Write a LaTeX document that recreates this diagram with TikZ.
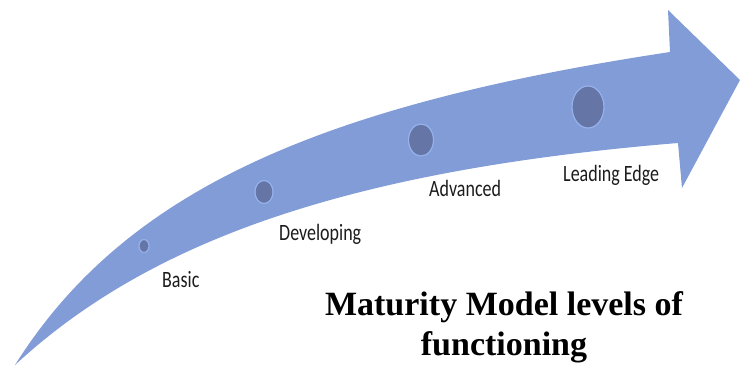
\documentclass[tikz,border=0pt]{standalone}
\usepackage{fontspec}
\usepackage{graphicx}
\setmainfont{Carlito}
\newfontfamily\titlefont{Liberation Serif}
\usetikzlibrary{shapes.geometric}

\definecolor{arrowblue}{RGB}{130,156,215}
\definecolor{dotblue}{RGB}{100,117,166}
\definecolor{dotrim}{RGB}{150,178,235}
\definecolor{labelgray}{RGB}{28,28,28}

% labels are set a little taller than the font
\newcommand{\tall}[1]{\scalebox{1}[1.3]{#1}}

\begin{document}
\begin{tikzpicture}[x=1pt,y=-1pt,
  level/.style={draw=dotrim, line width=1.2pt, fill=dotblue, ellipse, inner sep=0pt},
  stage/.style={anchor=base west, inner sep=0pt, text=labelgray, font=\fontsize{18}{20}\selectfont},
  heading/.style={anchor=base, inner sep=0pt, font=\titlefont\bfseries\fontsize{34}{40}\selectfont}]
\useasboundingbox (0,0) rectangle (745,365);

% curved arrow
\fill[arrowblue] (15,365) .. controls (125,190) and (320,105) .. (670,52)
  -- (668,10) -- (740,80) -- (682,188) -- (678,143)
  .. controls (350,170) and (150,240) .. (15,365) -- cycle;

% levels along the arrow
\node[level, minimum width=10, minimum height=13] (basic dot) at (144,246) {};
\node[level, minimum width=18, minimum height=23] (developing dot) at (264,192) {};
\node[level, minimum width=25, minimum height=32] (advanced dot) at (421,140) {};
\node[level, minimum width=32, minimum height=42] (leading dot) at (588,107) {};

\node[stage] (basic) at (162,287) {\tall{Basic}};
\node[stage] (developing) at (279,240) {\tall{Developing}};
\node[stage] (advanced) at (429,196) {\tall{Advanced}};
\node[stage] (leading) at (563,181) {\tall{Leading Edge}};

% title
\node[heading] (title top) at (504,315) {Maturity Model levels of};
\node[heading] (title bottom) at (504,355) {functioning};
\end{tikzpicture}
\end{document}
